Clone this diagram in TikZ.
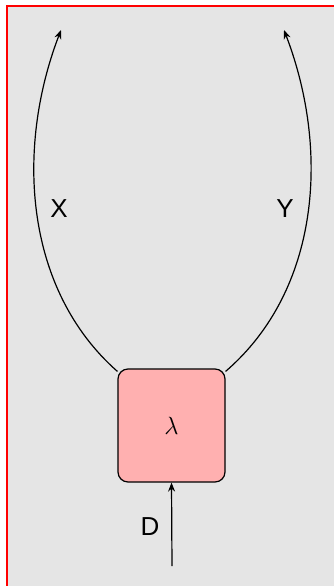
\documentclass[tikz,border=0pt]{standalone}
\usepackage{fontspec}
\setsansfont{Liberation Sans}
\usetikzlibrary{arrows.meta}
\definecolor{panel}{RGB}{229,229,229}
\definecolor{boxpink}{RGB}{255,176,176}
\tikzset{
  wire/.style={line width=1.2pt, -{Stealth[length=9pt,width=7pt]}},
  morph/.style={draw, line width=1.2pt, fill=boxpink, rounded corners=10pt,
    minimum width=107pt, minimum height=113pt, inner sep=0pt},
  lbl/.style={font=\sffamily\fontsize{26}{31}\selectfont}
}
\begin{document}
\begin{tikzpicture}[x=1pt,y=-1pt]
  \useasboundingbox (0,0) rectangle (334,586);
  \begin{scope}
    \clip (0,0) rectangle (334,586);
    \fill[panel, draw=red, line width=1.2pt] (7,6) rectangle (345,600);
  \end{scope}
  % the morphism box
  \node[morph] (lam) at (171.5,425.5) {\fontsize{25}{30}\selectfont$\lambda$};
  % input wire
  \coordinate (din) at (172,566);
  \draw[wire] (din) -- (lam.south);
  \node[lbl] (d) at (150,527) {D};
  % output wires
  \coordinate (xout) at (61,30);
  \coordinate (yout) at (284,30);
  \draw[wire] (lam.north west) ++(0,3) coordinate (xs)
    (xs) .. controls (25,290) and (15,150) .. (xout);
  \draw[wire] (lam.north east) ++(0,3) coordinate (ys)
    (ys) .. controls (320,290) and (330,150) .. (yout);
  \node[lbl] (x) at (59,209) {X};
  \node[lbl] (y) at (285,209) {Y};
\end{tikzpicture}
\end{document}
